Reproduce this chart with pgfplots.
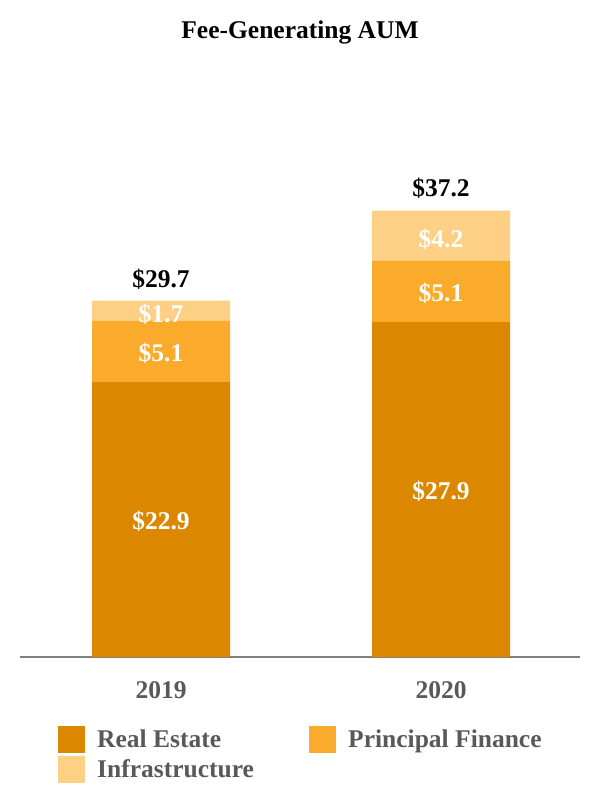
\documentclass[border=0pt]{standalone}
\usepackage{pgfplots}
\pgfplotsset{compat=1.18}
\usepackage{fontspec}
\setmainfont{Liberation Serif}
\definecolor{reC}{HTML}{DB8800}
\definecolor{pfC}{HTML}{FBAB2B}
\definecolor{infC}{HTML}{FDD085}
\definecolor{txtgray}{HTML}{595959}
\definecolor{axgray}{HTML}{7F7F7F}
\tikzset{lbl/.style={font=\fontsize{25.5}{30}\selectfont\bfseries}}
\begin{document}
\begin{tikzpicture}
\useasboundingbox (0,0) rectangle (600pt,800pt);
\node[anchor=center,text=black,lbl] at (300pt,768pt) {Fee-Generating AUM};
\begin{axis}[
  at={(20pt,143pt)}, anchor=south west,
  scale only axis, width=560pt, height=600pt,
  ybar stacked, bar width=138pt,
  xmin=-0.5036, xmax=1.4964, ymin=0, ymax=50,
  hide y axis,
  axis x line*=bottom,
  x axis line style={-, draw=axgray, line width=2pt},
  xtick={0,1}, xticklabels={2019,2020},
  major tick length=0pt,
  xticklabel style={text=txtgray, inner sep=0pt, yshift=-24pt, anchor=north, lbl},
  clip=false,
  legend columns=2,
  legend cell align=left,
  legend style={at={(0.0679,-0.115)}, anchor=north west, draw=none, fill=none, inner sep=0pt,
    column sep=10pt, row sep=3pt, lbl, text=txtgray},
  legend image code/.code={\fill[#1,draw=none] (0pt,-13.5pt) rectangle (27pt,13.5pt);},
  after end axis/.code={
    \node[lbl, text=white, yshift=-2pt] at (axis cs:0,11.45) {\$22.9};
    \node[lbl, text=white, yshift=-2pt] at (axis cs:0,25.45) {\$5.1};
    \node[lbl, text=white, yshift=-3pt] at (axis cs:0,28.85) {\$1.7};
    \node[lbl, text=white, yshift=-2pt] at (axis cs:1,13.95) {\$27.9};
    \node[lbl, text=white, yshift=-2pt] at (axis cs:1,30.45) {\$5.1};
    \node[lbl, text=white, yshift=-3pt] at (axis cs:1,35.1) {\$4.2};
  },
]
\addplot[fill=reC, draw=none] coordinates {(0,22.9) (1,27.9)};
\addplot[fill=pfC, draw=none] coordinates {(0,5.1) (1,5.1)};
\addplot[fill=infC, draw=none] coordinates {(0,1.7) (1,4.2)};
\legend{\makebox[200pt][l]{Real Estate}, Principal Finance, Infrastructure}
\node[lbl, text=black, yshift=21pt] at (axis cs:0,29.7) {\$29.7};
\node[lbl, text=black, yshift=22pt] at (axis cs:1,37.2) {\$37.2};
\end{axis}
\end{tikzpicture}
\end{document}
